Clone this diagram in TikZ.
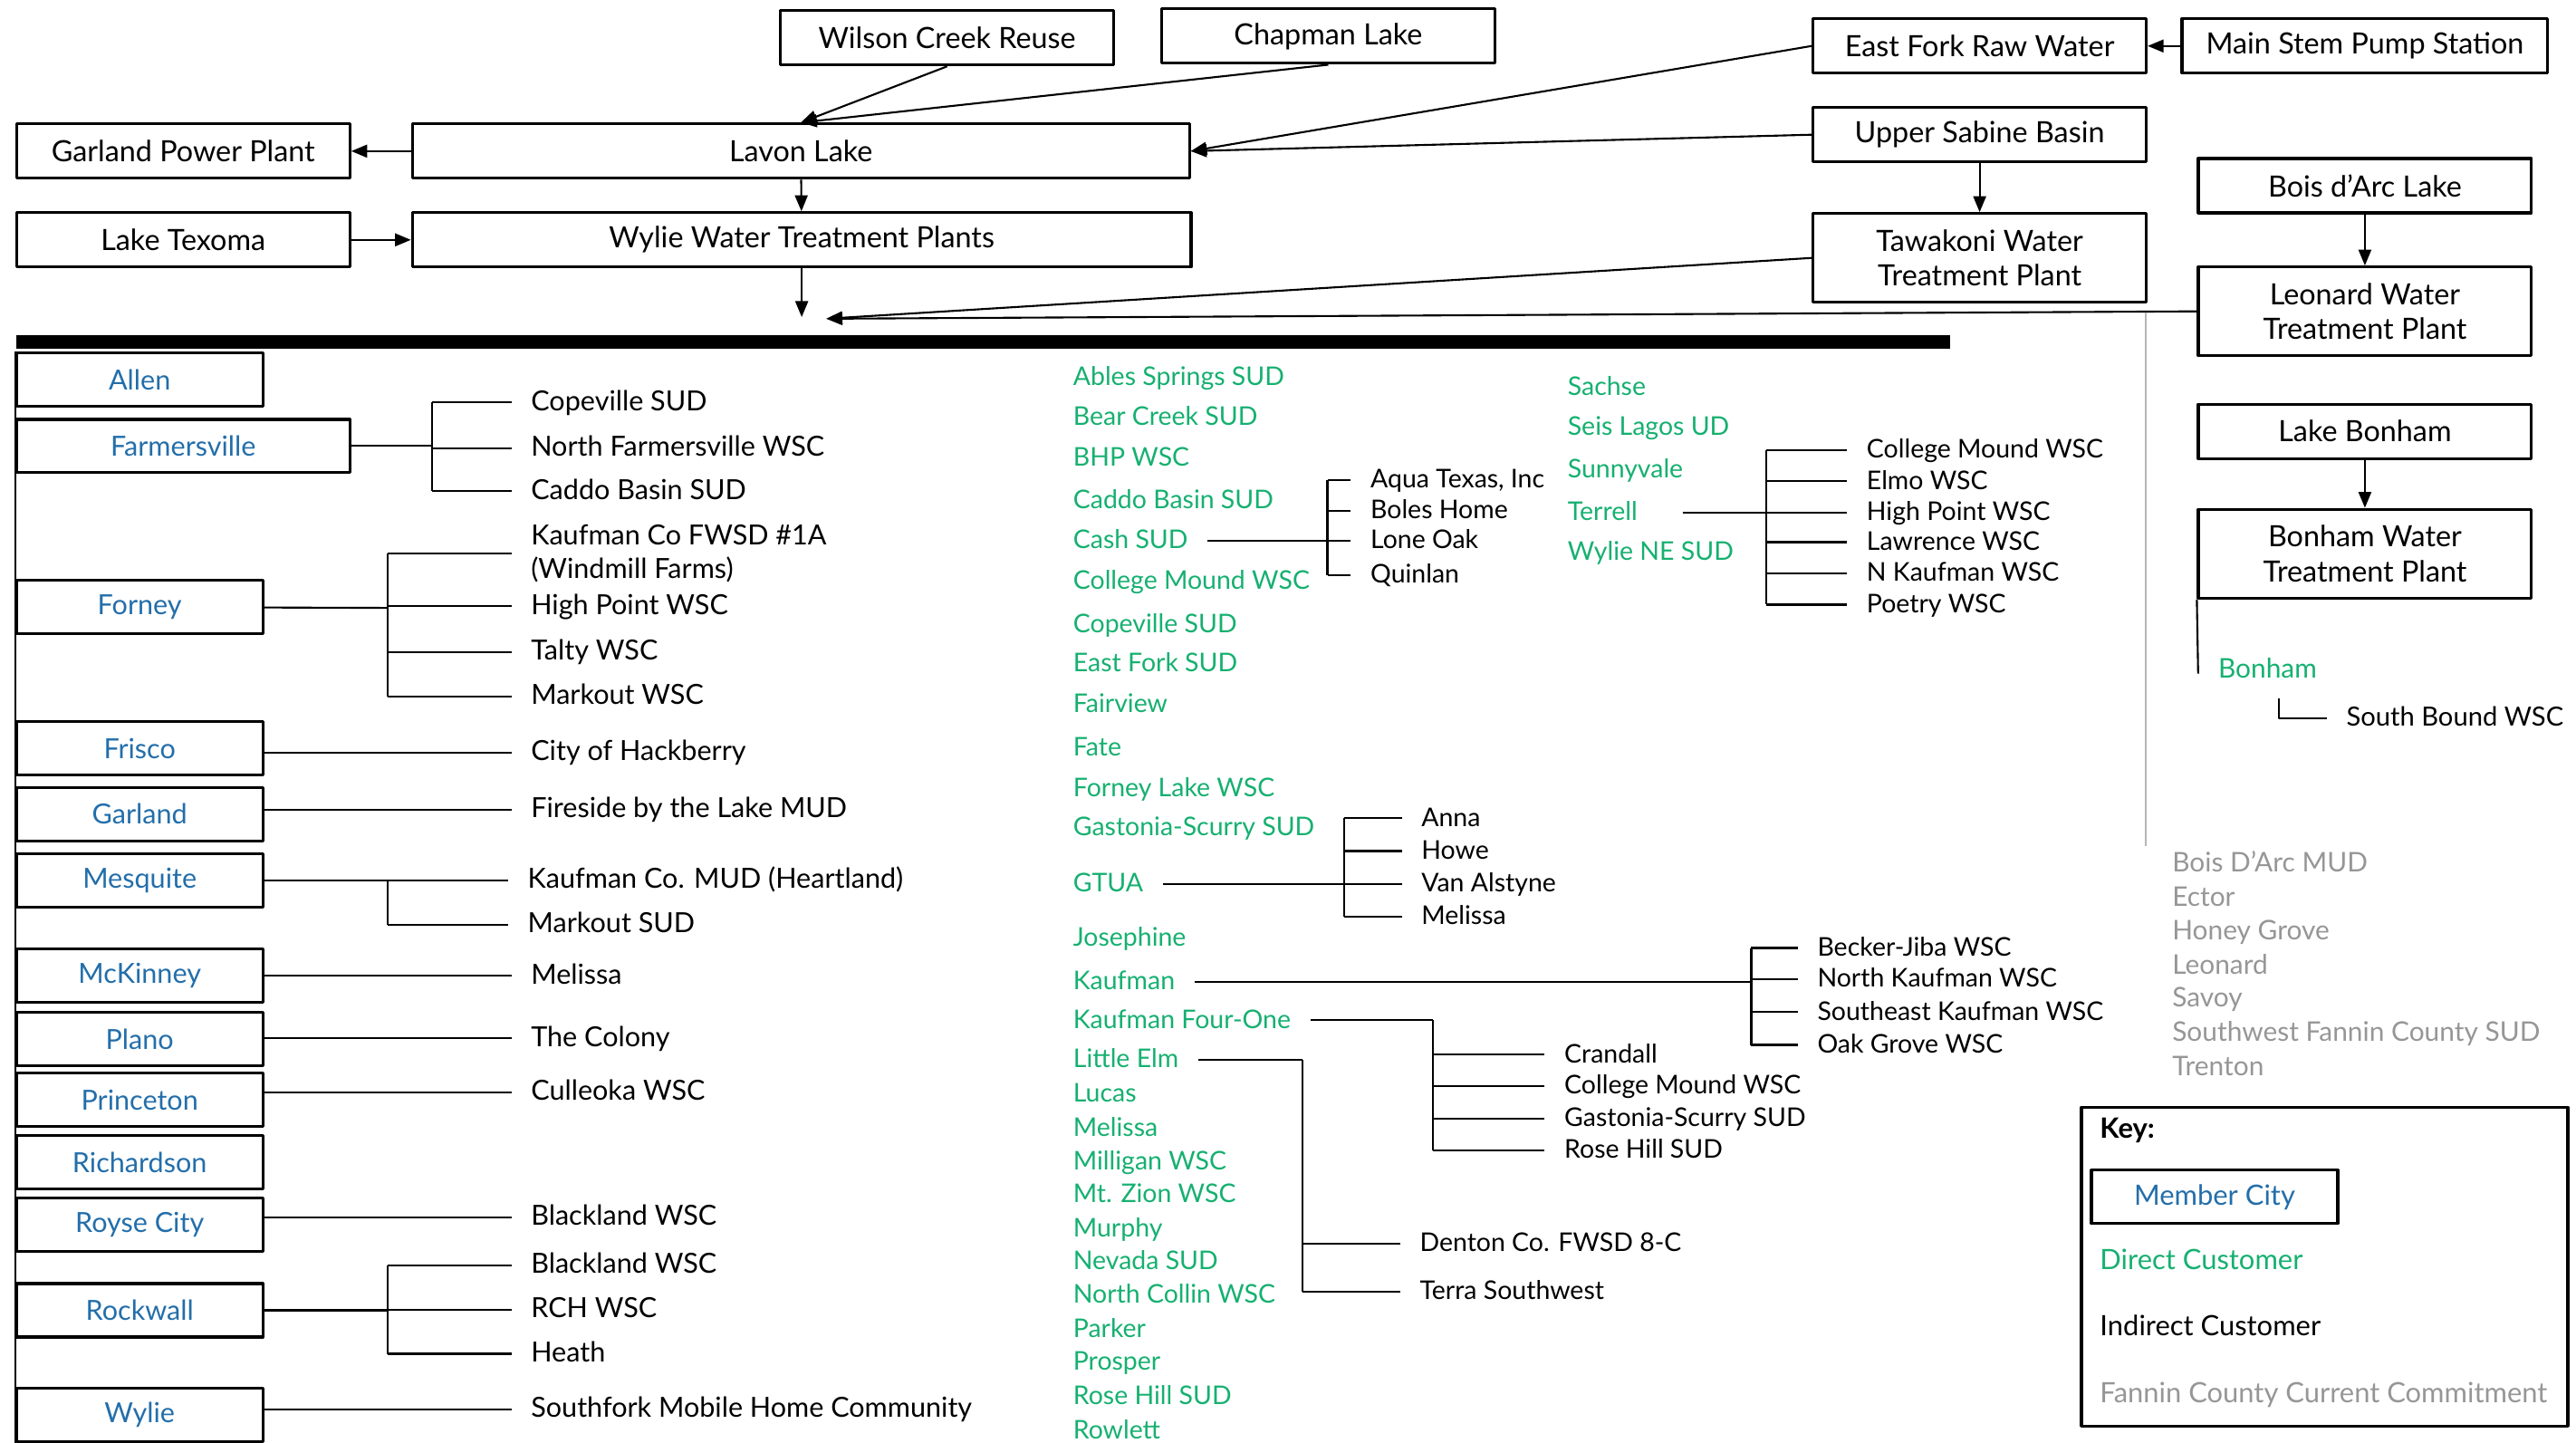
\documentclass[tikz,border=0pt]{standalone}
\usepackage{fontspec}
\setmainfont{Lato}
\usetikzlibrary{arrows.meta}
\definecolor{cityblue}{RGB}{35,110,170}
\definecolor{custgreen}{RGB}{22,176,112}
\definecolor{fanngray}{RGB}{150,150,150}

\begin{document}
\begin{tikzpicture}[x=0.018138cm, y=-0.018138cm, line join=round,
    every node/.style={font=\fontsize{9.2}{11}\selectfont},
    box/.style={draw, line width=0.9pt, minimum width=3.68cm, minimum height=0.6cm, align=center, inner sep=1pt},
    city/.style={draw, line width=0.9pt, text=cityblue, minimum width=2.72cm, minimum height=0.59cm, inner sep=1pt},
    item/.style={anchor=west, inner sep=2pt, text height=7pt, text depth=2pt},
    direct/.style={item, text=custgreen},
    indirect/.style={item},
    fannin/.style={item, text=fanngray},
    feed/.style={-{Triangle[length=5pt, width=4pt]}, line width=0.6pt},
    link/.style={line width=0.6pt},
    branch/.style={link, shorten >=4pt}]

    \useasboundingbox (0,0) rectangle (1568,878);

    % 1. Sources and plants (top boxes)
    \node[box] (WC) at (576.5,23) {Wilson Creek Reuse};
    \node[box] (CL) at (808.5,22) {Chapman Lake};
    \node[box] (EF) at (1205,28) {East Fork Raw Water};
    \node[box, minimum width=4.04cm] (MS) at (1439.5,28) {Main Stem Pump Station};
    \node[box] (GP) at (111.5,92) {Garland Power Plant};
    \node[box, minimum width=8.58cm] (LL) at (487.5,92) {Lavon Lake};
    \node[box] (US) at (1205,82) {Upper Sabine Basin};
    \node[box] (LT) at (111.5,146) {Lake Texoma};
    \node[box, minimum width=8.6cm] (WW) at (488,146) {Wylie Water Treatment Plants};
    \node[box] (BA) at (1439.5,113) {Bois d'Arc Lake};
    \node[box, minimum height=0.98cm] (TW) at (1205,157) {Tawakoni Water\\Treatment Plant};
    \node[box, minimum height=0.98cm] (LW) at (1439.5,189.5) {Leonard Water\\Treatment Plant};
    \node[box] (LB) at (1439.5,262.5) {Lake Bonham};
    \node[box, minimum height=0.98cm] (BW) at (1439.5,337) {Bonham Water\\Treatment Plant};

    % 2. Water flow (arrows)
    \draw[feed] (WC.south) -- (LL.north);
    \draw[feed] (CL.south) -- (LL.north);
    \draw[feed] (EF.west) -- (LL.east);
    \draw[feed] (US.west) -- (LL.east);
    \draw[feed] (MS) -- (EF);
    \draw[feed] (LL) -- (GP);
    \draw[feed] (LL) -- (WW);
    \draw[feed] (LT) -- (WW);
    \draw[feed] (US) -- (TW);
    \draw[feed] (BA) -- (LW);
    \draw[feed] (LB) -- (BW);
    \coordinate (WWout) at (488,193);
    \coordinate (join) at (503,194);
    \draw[feed] (WW.south) -- (WWout);
    \draw[feed] (TW.west) -- (join);
    \draw[feed] (LW.west) -- (join);

    % separator bar
    \fill (10,204) rectangle (1187,212);

    % 3. Member cities (left column)
    \begin{scope}[every node/.append style={font=\fontsize{8.7}{10.5}\selectfont}]
    \foreach \n/\y/\t in {allen/231/Allen, forney/369.5/Forney, frisco/455.5/Frisco,
        garland/495.5/Garland, mesquite/536/Mesquite, mckinney/594/McKinney, plano/632.5/Plano,
        princeton/669.5/Princeton, richardson/707.5/Richardson, royse/745.5/Royse City,
        rockwall/797.5/Rockwall, wylie/861/Wylie}
        \node[city] (\n) at (85,\y) {\t};
    \node[city, minimum width=3.68cm] (farmersville) at (111.5,271.5) {Farmersville};
    \draw[link] (allen.north west) -- (wylie.south west);

    % Farmersville
    \coordinate (fbus) at (263,271.5);
    \draw[link] (farmersville) -- (fbus);
    \foreach \y/\t [count=\i] in {245/Copeville SUD, 273/North Farmersville WSC, 299/Caddo Basin SUD} {
        \node[indirect] (far\i) at (319,\y) {\t};
        \draw[branch] (fbus |- far\i.west) -- (far\i.west);
    }
    \draw[link] (fbus |- far1.west) -- (fbus |- far3.west);

    % Forney
    \coordinate (fobus) at (236,370);
    \draw[link] (forney) -- (fobus);
    \node[anchor=west, inner sep=2pt, align=left] (for1) at (319,337) {Kaufman Co FWSD \#1A\\(Windmill Farms)};
    \foreach \y/\t [count=\i from 2] in {369/High Point WSC, 397/Talty WSC, 424/Markout WSC}
        \node[indirect] (for\i) at (319,\y) {\t};
    \foreach \i in {1,...,4}
        \draw[branch] (fobus |- for\i.west) -- (for\i.west);
    \draw[link] (fobus |- for1.west) -- (fobus |- for4.west);

    % one customer each
    \foreach \p/\y/\t [count=\i] in {frisco/458/City of Hackberry, garland/493/Fireside by the Lake MUD,
        mckinney/594/Melissa, plano/632/The Colony, princeton/665/Culleoka WSC,
        royse/741/Blackland WSC, wylie/858/Southfork Mobile Home Community} {
        \node[indirect] (one\i) at (319,\y) {\t};
        \draw[branch] (\p.east |- one\i.west) -- (one\i.west);
    }

    % Mesquite
    \coordinate (mbus) at (236,536);
    \draw[link] (mesquite) -- (mbus);
    \foreach \y/\t [count=\i] in {536/Kaufman Co. MUD (Heartland), 563/Markout SUD} {
        \node[indirect] (mes\i) at (317,\y) {\t};
        \draw[branch] (mbus |- mes\i.west) -- (mes\i.west);
    }
    \draw[link] (mbus) -- (mbus |- mes2.west);

    % Rockwall
    \coordinate (rbus) at (236,797.5);
    \draw[link] (rockwall) -- (rbus);
    \foreach \y/\t [count=\i] in {770/Blackland WSC, 797/RCH WSC, 824/Heath} {
        \node[indirect] (roc\i) at (319,\y) {\t};
        \draw[branch] (rbus |- roc\i.west) -- (roc\i.west);
    }
    \draw[link] (rbus |- roc1.west) -- (rbus |- roc3.west);
    \end{scope}

    % 4. Direct customers (middle columns)
    \begin{scope}[every node/.append style={font=\fontsize{8.1}{10}\selectfont}]
    \foreach \y/\t [count=\i] in {230/Ables Springs SUD, 254/Bear Creek SUD, 279/BHP WSC,
        305/Caddo Basin SUD, 329/Cash SUD, 354/College Mound WSC, 380/Copeville SUD,
        404/East Fork SUD, 429/Fairview, 455/Fate, 480/Forney Lake WSC, 504/Gastonia-Scurry SUD,
        538/GTUA, 571/Josephine, 597.5/Kaufman, 621/Kaufman Four-One, 645/Little Elm, 666/Lucas,
        687/Melissa, 707/Milligan WSC, 727/Mt. Zion WSC, 748/Murphy, 768/Nevada SUD,
        788/North Collin WSC, 809/Parker, 829/Prosper, 850/Rose Hill SUD, 871/Rowlett}
        \node[direct] (d\i) at (649,\y) {\t};
    \foreach \y/\t [count=\i] in {236/Sachse, 260/Seis Lagos UD, 286/Sunnyvale, 312/Terrell, 336/Wylie NE SUD}
        \node[direct] (s\i) at (950,\y) {\t};

    % Cash SUD
    \coordinate (cbus) at (808,329);
    \draw[link, shorten <=4pt] (d5.east) -- (cbus);
    \foreach \y/\t [count=\i] in {292/{Aqua Texas, Inc}, 311/Boles Home, 329/Lone Oak, 350/Quinlan} {
        \node[indirect] (cash\i) at (830,\y) {\t};
        \draw[branch] (cbus |- cash\i.west) -- (cash\i.west);
    }
    \draw[link] (cbus |- cash1.west) -- (cbus |- cash4.west);

    % Terrell
    \coordinate (tbus) at (1075,312);
    \draw[link, shorten <=12pt] (s4.east) -- (tbus);
    \foreach \y/\t [count=\i] in {274/College Mound WSC, 293/Elmo WSC, 312/High Point WSC,
        330/Lawrence WSC, 349/N Kaufman WSC, 368/Poetry WSC} {
        \node[indirect] (ter\i) at (1132,\y) {\t};
        \draw[branch] (tbus |- ter\i.west) -- (ter\i.west);
    }
    \draw[link] (tbus |- ter1.west) -- (tbus |- ter6.west);

    % GTUA
    \coordinate (gbus) at (818,538);
    \draw[link, shorten <=4pt] (d13.east) -- (gbus);
    \foreach \y/\t [count=\i] in {498/Anna, 518/Howe, 538/Van Alstyne, 558/Melissa} {
        \node[indirect] (gt\i) at (861,\y) {\t};
        \draw[branch] (gbus |- gt\i.west) -- (gt\i.west);
    }
    \draw[link] (gbus |- gt1.west) -- (gbus |- gt4.west);

    % Kaufman
    \coordinate (kbus) at (1066,597.5);
    \draw[link, shorten <=4pt] (d15.east) -- (kbus);
    \foreach \y/\t [count=\i] in {577/Becker-Jiba WSC, 596/North Kaufman WSC, 616/Southeast Kaufman WSC, 636/Oak Grove WSC} {
        \node[indirect] (kau\i) at (1102,\y) {\t};
        \draw[branch] (kbus |- kau\i.west) -- (kau\i.west);
    }
    \draw[link] (kbus |- kau1.west) -- (kbus |- kau4.west);

    % Kaufman Four-One
    \coordinate (kfbus) at (872,621);
    \draw[link, shorten <=4pt] (d16.east) -- (kfbus);
    \foreach \y/\t [count=\i] in {642/Crandall, 661/College Mound WSC, 681/Gastonia-Scurry SUD, 700/Rose Hill SUD} {
        \node[indirect] (kf\i) at (948,\y) {\t};
        \draw[branch] (kfbus |- kf\i.west) -- (kf\i.west);
    }
    \draw[link] (kfbus) -- (kfbus |- kf4.west);

    % Little Elm
    \coordinate (lbus) at (793,645);
    \draw[link, shorten <=4pt] (d17.east) -- (lbus);
    \foreach \y/\t [count=\i] in {757/Denton Co. FWSD 8-C, 786/Terra Southwest} {
        \node[indirect] (le\i) at (860,\y) {\t};
        \draw[branch] (lbus |- le\i.west) -- (le\i.west);
    }
    \draw[link] (lbus) -- (lbus |- le2.west);
    \end{scope}

    % 5. Fannin county (right side)
    \coordinate (g1) at (1306,190);
    \coordinate (g2) at (1306,515);
    \draw[fanngray!70, line width=0.6pt] (g1) -- (g2);
    \coordinate (bend) at (1338,410);
    \draw[link] (BW.south west) -- (bend);
    \begin{scope}[every node/.append style={font=\fontsize{8.5}{10}\selectfont}]
    \node[direct] (bonham) at (1346,408) {Bonham};
    \coordinate (bsb) at (1387,425);
    \node[indirect, font=\fontsize{8.3}{10}\selectfont] (sbw) at (1424,437) {South Bound WSC};
    \draw[branch] (bsb) |- (sbw.west);
    \foreach \y/\t [count=\i] in {526/Bois D'Arc MUD, 547/Ector, 567/Honey Grove, 588/Leonard,
        608/Savoy, 629/Southwest Fannin County SUD, 650/Trenton}
        \node[fannin] (fc\i) at (1318,\y) {\t};
    \end{scope}

    % 6. Key
    \draw[line width=0.9pt] (1267,674) rectangle (1563,868);
    \begin{scope}[every node/.append style={font=\fontsize{8.8}{10.5}\selectfont}]
    \node[item, font=\fontsize{8.8}{10.5}\selectfont\bfseries] (key) at (1274,688) {Key:};
    \node[city] (kmember) at (1348,728.5) {Member City};
    \node[direct] (kdirect) at (1274,768) {Direct Customer};
    \node[indirect] (kindirect) at (1274,808) {Indirect Customer};
    \node[fannin] (kfannin) at (1274,849) {Fannin County Current Commitment};
    \end{scope}
\end{tikzpicture}
\end{document}
